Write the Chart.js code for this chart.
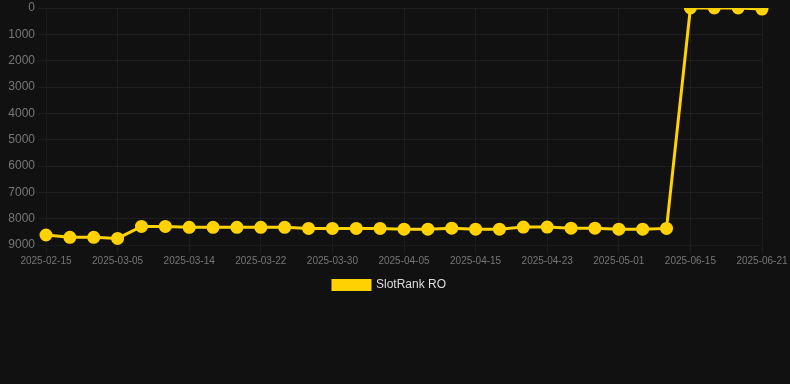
<!DOCTYPE html>
<html>
<head>
<meta charset="utf-8">
<script src="https://cdn.jsdelivr.net/npm/chart.js@4"></script>
<style>
html,body{margin:0;padding:0;background:#111111;}
#wrap{width:790px;height:301px;position:relative;}
</style>
</head>
<body>
<div id="wrap"><canvas id="c"></canvas></div>
<script>
const categories = [
 "2025-02-15","2025-02-21","2025-02-27","2025-03-05","2025-03-08","2025-03-11",
 "2025-03-14","2025-03-16","2025-03-19","2025-03-22","2025-03-24","2025-03-27",
 "2025-03-30","2025-04-01","2025-04-03","2025-04-05","2025-04-09","2025-04-12",
 "2025-04-15","2025-04-17","2025-04-20","2025-04-23","2025-04-25","2025-04-28",
 "2025-05-01","2025-05-03","2025-05-06","2025-06-15","2025-06-17","2025-06-19",
 "2025-06-21"
];
const rankValues = [
 8620,8710,8710,8750,8295,8295,
 8330,8330,8330,8330,8330,8370,
 8370,8370,8370,8400,8400,8360,
 8400,8400,8320,8320,8360,8360,
 8400,8400,8370,1,1,1,
 40
];
const yTicks = [0,1000,2000,3000,4000,5000,6000,7000,8000,9000];
const seriesName = "SlotRank RO";

new Chart(document.getElementById('c'), {
  type: 'line',
  data: {
    labels: categories,
    datasets: [{
      label: seriesName,
      data: rankValues,
      borderColor: '#FFD200',
      backgroundColor: '#FFD200',
      pointBackgroundColor: '#FFD200',
      pointBorderColor: '#FFD200',
      borderWidth: 3,
      pointRadius: 5,
      tension: 0,
      fill: false
    }]
  },
  options: {
    responsive: true,
    maintainAspectRatio: false,
    animation: false,
    layout: { padding: { top: 0, left: 0, right: 11, bottom: 0 } },
    plugins: {
      legend: {
        position: 'bottom',
        labels: { color: '#dddddd', font: { size: 12, family: 'Arial, "Liberation Sans", sans-serif' }, boxWidth: 37, boxHeight: 9 }
      },
      tooltip: { enabled: false }
    },
    scales: {
      x: {
        grid: { color: 'rgba(255,255,255,0.05)' },
        ticks: { color: '#777777', padding: 2, font: { size: 10, family: 'Arial, "Liberation Sans", sans-serif' }, maxRotation: 0, autoSkip: true },
        afterFit: (s) => { s.paddingRight = 28; }
      },
      y: {
        reverse: true,
        min: 0,
        max: 9000,
        afterBuildTicks: (axis) => { axis.ticks = yTicks.map(v => ({ value: v })); },
        afterFit: (s) => { s.width = 46; s.paddingTop = 5; },
        grid: { color: 'rgba(255,255,255,0.05)' },
        ticks: { color: '#777777', font: { size: 12, family: 'Arial, "Liberation Sans", sans-serif' }, callback: (v) => String(v) }
      }
    }
  }
});
</script>
</body>
</html>
